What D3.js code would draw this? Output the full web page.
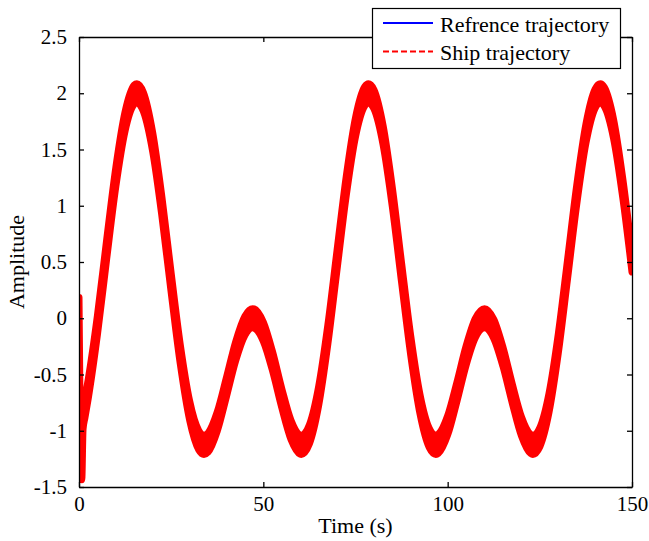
<!DOCTYPE html>
<html lang="en">
<head>
    <meta charset="UTF-8">
    <title>Refrence vs Ship trajectory</title>
    <style>
        body {
            margin: 0;
            padding: 0;
            background-color: #ffffff;
        }
        text {
            font-family: "Liberation Serif", "Times New Roman", serif;
            fill: #000000;
        }
        .axis path, .axis line {
            stroke: #000000;
            stroke-width: 1.3px;
        }
    </style>
</head>
<body>
    <div id="chart"></div>

    <script src="https://d3js.org/d3.v7.min.js"></script>
    <script>
        // Reference trajectory, every 2.5 s plus its turning points
        const timeSec = [
            0, 2.5, 5, 7.5, 10, 12.5, 15, 15.7, 17.5, 20, 22.5,
            25, 27.5, 30, 32.5, 33.9, 35, 37.5, 40, 42.5, 45, 47.1, 47.5,
            50, 52.5, 55, 57.5, 60, 60.3, 62.5, 65, 67.5, 70, 72.5,
            75, 77.5, 78.5, 80, 82.5, 85, 87.5, 90, 92.5, 95, 96.8, 97.5,
            100, 102.5, 105, 107.5, 110, 112.5, 115, 117.5, 120, 122.5, 123.1,
            125, 127.5, 130, 132.5, 135, 137.5, 140, 141.4, 142.5, 145, 147.5,
            150
        ];
        const refValue = [
            -1.000, -0.630, -0.061, 0.611, 1.258, 1.750, 1.988, 2.000, 1.920, 1.563, 0.989,
            0.315, -0.327, -0.819, -1.085, -1.125, -1.105, -0.918, -0.611, -0.293, -0.066, 0.000, -0.002,
            -0.120, -0.383, -0.710, -0.992, -1.123, -1.125, -1.031, -0.692, -0.145, 0.520, 1.178,
            1.698, 1.973, 2.000, 1.947, 1.625, 1.074, 0.405, -0.248, -0.765, -1.064, -1.125, -1.115,
            -0.952, -0.655, -0.332, -0.088, 0.000, -0.094, -0.343, -0.666, -0.960, -1.117, -1.125,
            -1.057, -0.750, -0.227, 0.430, 1.096, 1.641, 1.953, 2.000, 1.968, 1.683, 1.156,
            0.496
        ];

        // Ship start-up transient before it locks onto the reference
        const shipHeadTime = [0, 0.2, 0.45, 0.75, 1.1, 1.6];
        const shipHeadValue = [0.10, -0.60, -1.30, -1.35, -0.90, -0.80];
        // half height of the fast oscillation band around the reference
        const shipSpread = 0.085;

        const xTicks = [0, 50, 100, 150];
        const yTicks = [-1.5, -1, -0.5, 0, 0.5, 1, 1.5, 2, 2.5];

        const legendNames = ["Refrence trajectory", "Ship trajectory"];
        const xLabel = "Time (s)";
        const yLabel = "Amplitude";

        const width = 649;
        const height = 541;
        const margin = {left: 79, right: 17, top: 37, bottom: 54};

        const svg = d3.select("#chart").append("svg")
            .attr("width", width)
            .attr("height", height);

        const x = d3.scaleLinear()
            .domain([0, 150])
            .range([margin.left, width - margin.right]);
        const y = d3.scaleLinear()
            .domain([-1.5, 2.5])
            .range([height - margin.bottom, margin.top]);

        const refData = timeSec.map((t, i) => ({t: t, v: refValue[i]}));
        const shipData = shipHeadTime.map((t, i) => ({t: t, v: shipHeadValue[i]}))
            .concat(refData.filter(d => d.t >= 2.5));

        svg.append("defs").append("clipPath")
            .attr("id", "plotClip")
            .append("rect")
            .attr("x", x(0))
            .attr("y", y(2.5))
            .attr("width", x(150) - x(0))
            .attr("height", y(-1.5) - y(2.5));

        const plot = svg.append("g").attr("clip-path", "url(#plotClip)");

        const line = d3.line()
            .x(d => x(d.t))
            .y(d => y(d.v))
            .curve(d3.curveMonotoneX);

        const band = d3.area()
            .x(d => x(d.t))
            .y0(d => y(d.v - shipSpread))
            .y1(d => y(d.v + shipSpread))
            .curve(d3.curveMonotoneX);

        // reference line underneath
        plot.append("path")
            .datum(refData)
            .attr("fill", "none")
            .attr("stroke", "#0000ff")
            .attr("stroke-width", 1.5)
            .attr("d", line);

        // ship trajectory drawn as a dense band
        plot.append("path")
            .datum(shipData)
            .attr("fill", "#ff0000")
            .attr("stroke", "#ff0000")
            .attr("stroke-width", 7)
            .attr("stroke-linejoin", "round")
            .attr("d", band);

        // axes, MATLAB style: box with inward ticks
        const fmt = d => String(d);

        svg.append("g")
            .attr("class", "axis")
            .attr("transform", `translate(0,${y(-1.5)})`)
            .call(d3.axisBottom(x).tickValues(xTicks).tickFormat(fmt).tickSizeInner(-5).tickSizeOuter(0).tickPadding(9))
            .call(g => g.selectAll("text").attr("font-size", 21).attr("fill", "#000"));

        svg.append("g")
            .attr("class", "axis")
            .attr("transform", `translate(0,${y(2.5)})`)
            .call(d3.axisTop(x).tickValues(xTicks).tickFormat("").tickSizeInner(-5).tickSizeOuter(0));

        svg.append("g")
            .attr("class", "axis")
            .attr("transform", `translate(${x(0)},0)`)
            .call(d3.axisLeft(y).tickValues(yTicks).tickFormat(fmt).tickSizeInner(-5).tickSizeOuter(0).tickPadding(12))
            .call(g => g.selectAll("text").attr("font-size", 21).attr("fill", "#000"));

        svg.append("g")
            .attr("class", "axis")
            .attr("transform", `translate(${x(150)},0)`)
            .call(d3.axisRight(y).tickValues(yTicks).tickFormat("").tickSizeInner(-5).tickSizeOuter(0));

        svg.selectAll(".axis text").attr("font-family", "'Liberation Serif', 'Times New Roman', serif");

        // axis titles
        svg.append("text")
            .attr("x", (x(0) + x(150)) / 2)
            .attr("y", 533)
            .attr("text-anchor", "middle")
            .attr("font-size", 22)
            .text(xLabel);

        svg.append("text")
            .attr("transform", `translate(24,${(y(2.5) + y(-1.5)) / 2}) rotate(-90)`)
            .attr("text-anchor", "middle")
            .attr("font-size", 22)
            .text(yLabel);

        // legend box
        const legend = svg.append("g").attr("class", "legend");
        legend.append("rect")
            .attr("x", 372.5)
            .attr("y", 8.5)
            .attr("width", 248)
            .attr("height", 60)
            .attr("fill", "#ffffff")
            .attr("stroke", "#000000")
            .attr("stroke-width", 1.2);

        const legendColors = ["#0000ff", "#ff0000"];
        const legendDash = [null, "6,3"];
        legendNames.forEach((name, i) => {
            const ly = 23 + i * 28.5;
            legend.append("line")
                .attr("x1", 383)
                .attr("x2", 433)
                .attr("y1", ly)
                .attr("y2", ly)
                .attr("stroke", legendColors[i])
                .attr("stroke-width", 2)
                .attr("stroke-dasharray", legendDash[i]);
            legend.append("text")
                .attr("x", 440)
                .attr("y", ly + 8.5)
                .attr("font-size", 22)
                .text(name);
        });
    </script>
</body>
</html>
